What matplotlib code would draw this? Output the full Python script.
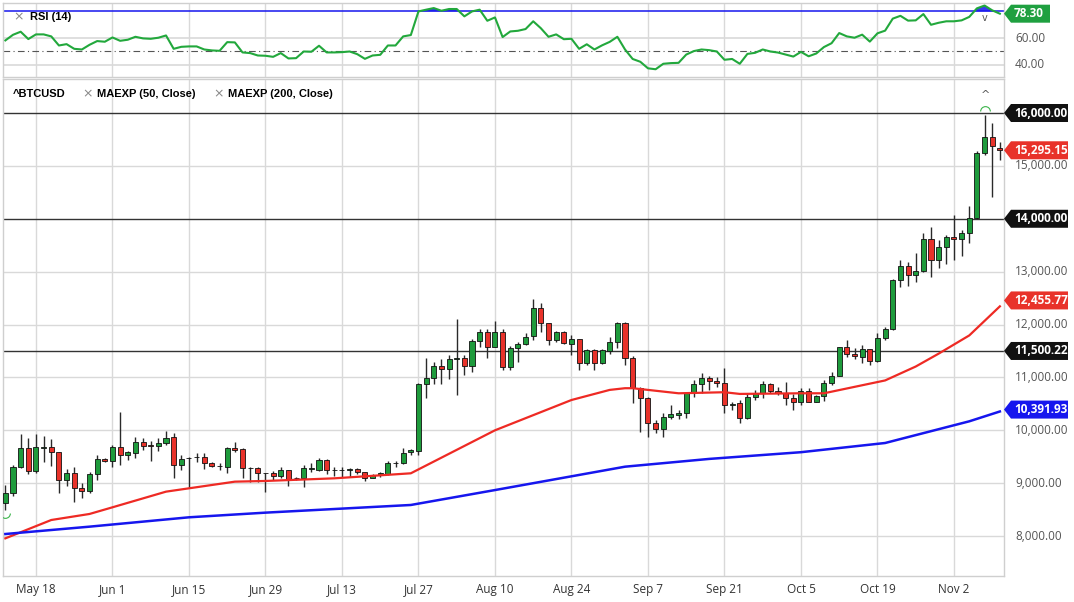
import numpy as np
import matplotlib.pyplot as plt
from matplotlib.patches import Polygon
from matplotlib.transforms import IdentityTransform
from matplotlib.path import Path

# ======================
# 1. Данные, дневные свечи без выходных, 12 мая - 10 ноября
# ======================
opens = [8632, 8821, 9300, 9659, 9231, 9660, 9691, 9584, 9061, 9187,
         8916, 8859, 9168, 9451, 9420, 9691, 9527, 9578, 9773, 9718,
         9704, 9754, 9867, 9344, 9483, 9488, 9496, 9382, 9332, 9313,
         9659, 9640, 9294, 9281, 9187, 9187, 9143, 9250, 9092, 9092,
         9262, 9250, 9439, 9250, 9250, 9250, 9269, 9206, 9104, 9155,
         9174, 9376, 9376, 9584, 9615, 10876, 10983, 11216, 11153, 11342,
         11373, 11216, 11689, 11865, 11569, 11865, 11191, 11562, 11626, 11789,
         12319, 12035, 11708, 11865, 11626, 11720, 11266, 11518, 11266, 11499,
         11676, 12023, 11373, 10794, 10604, 10144, 10018, 10258, 10290, 10321,
         10699, 10870, 10983, 10939, 10888, 10479, 10510, 10227, 10624, 10712,
         10870, 10750, 10700, 10605, 10542, 10744, 10542, 10655, 10888, 11033,
         11569, 11443, 11393, 11538, 11317, 11739, 11925, 12842, 13113, 12937,
         13019, 13611, 13220, 13472, 13649, 13611, 13737, 14008, 15237, 15540, 15340]
highs = [8966, 9344, 9930, 9849, 9930, 9893, 9830, 9590, 9262, 9313,
         8998, 9218, 9527, 9477, 9722, 10353, 9615, 9867, 9849, 9798,
         9861, 9993, 9943, 9527, 9502, 9577, 9565, 9407, 9388, 9678,
         9773, 9659, 9313, 9313, 9199, 9237, 9300, 9250, 9111, 9344,
         9376, 9470, 9458, 9313, 9313, 9281, 9294, 9206, 9174, 9218,
         9420, 9420, 9659, 9640, 10900, 11361, 11298, 11342, 11424, 12098,
         11424, 11720, 11909, 11909, 12073, 11909, 11594, 11676, 11846, 12476,
         12401, 12035, 11884, 11870, 11802, 11725, 11531, 11531, 11531, 11771,
         12054, 12054, 11405, 10825, 10636, 10195, 10321, 10479, 10384, 10731,
         10952, 11090, 11033, 11015, 11172, 10542, 10573, 10700, 10762, 10939,
         10901, 10825, 10907, 10680, 10794, 10794, 10660, 10951, 11109, 11582,
         11708, 11550, 11613, 11540, 11834, 11950, 12867, 13220, 13189, 13346,
         13737, 13850, 13598, 13693, 14071, 13788, 14242, 15288, 15962, 15817, 15458]
lows = [8493, 8764, 9281, 9168, 9187, 9407, 9325, 8821, 8947, 8651,
        8714, 8809, 9061, 9407, 9313, 9344, 9439, 9470, 9628, 9420,
        9615, 9722, 9104, 9250, 8916, 9407, 9262, 9313, 9250, 9187,
        9596, 9104, 9029, 9029, 8840, 9061, 9092, 8954, 9061, 8935,
        9218, 9237, 9174, 9136, 9124, 9124, 9174, 9048, 9092, 9124,
        9155, 9300, 9363, 9533, 9533, 10604, 10876, 10876, 10970, 10668,
        11046, 11109, 11581, 11361, 11569, 11140, 11140, 11298, 11613, 11708,
        11865, 11613, 11676, 11630, 11424, 11140, 11235, 11140, 11260, 11443,
        11550, 11235, 10510, 9974, 9880, 9943, 9867, 10207, 10207, 10226,
        10636, 10700, 10762, 10825, 10321, 10384, 10145, 10208, 10573, 10605,
        10712, 10668, 10479, 10384, 10479, 10536, 10536, 10554, 10857, 11030,
        11393, 11342, 11279, 11235, 11298, 11700, 11900, 12716, 12735, 12811,
        13000, 12905, 13063, 13145, 13220, 13296, 13548, 14000, 15206, 14418, 15111]
closes = [8821, 9313, 9659, 9231, 9678, 9680, 9584, 9061, 9187, 8916,
          8859, 9168, 9451, 9420, 9691, 9533, 9584, 9785, 9710, 9710,
          9754, 9861, 9344, 9464, 9480, 9492, 9376, 9332, 9330, 9659,
          9628, 9294, 9290, 9187, 9185, 9143, 9250, 9080, 9090, 9281,
          9281, 9439, 9250, 9245, 9245, 9265, 9218, 9104, 9155, 9187,
          9376, 9380, 9578, 9628, 10876, 10983, 11216, 11153, 11342, 11373,
          11216, 11689, 11865, 11569, 11865, 11191, 11562, 11632, 11771, 12319,
          12023, 11708, 11865, 11645, 11720, 11266, 11518, 11266, 11518, 11676,
          12023, 11373, 10794, 10604, 10144, 10018, 10258, 10308, 10333, 10699,
          10870, 10996, 10939, 10888, 10479, 10504, 10227, 10624, 10712, 10870,
          10750, 10700, 10605, 10542, 10744, 10542, 10655, 10888, 11033, 11569,
          11437, 11405, 11538, 11317, 11739, 11920, 12842, 13113, 12937, 13019,
          13611, 13220, 13472, 13649, 13617, 13737, 14008, 15237, 15540, 15376, 15295.15]

ema50_idx = [0, 6, 11, 14, 21, 24, 30, 34, 43, 53, 64, 74, 79, 81, 82, 88, 94,
             96, 104, 107, 115, 119, 122, 126, 130]
ema50_val = [7957, 8304, 8418, 8544, 8840, 8903, 9029, 9042, 9092, 9187, 10000,
             10573, 10764, 10796, 10796, 10700, 10720, 10688, 10700, 10700, 10943,
             11206, 11450, 11794, 12344]
ema200_idx = [0, 11, 24, 34, 53, 64, 81, 92, 104, 115, 126, 130]
ema200_val = [8039, 8178, 8355, 8443, 8588, 8870, 9312, 9459, 9586, 9760, 10170, 10356]

last_ema50 = 12455.77
last_ema200 = 10391.93

rsi = [58.3, 62.5, 64.8, 59.3, 62.8, 62.8, 61.3, 54.5, 55.5, 52.0,
       51.5, 55.0, 57.8, 57.3, 60.5, 58.0, 58.8, 61.0, 59.8, 59.5,
       60.3, 62.0, 52.0, 53.5, 53.8, 53.8, 51.5, 50.8, 50.5, 57.0,
       56.8, 49.3, 48.8, 47.0, 46.8, 46.0, 48.8, 44.8, 45.0, 50.0,
       49.8, 54.3, 49.3, 49.3, 49.5, 50.0, 48.0, 44.5, 47.0, 47.5,
       54.5, 54.5, 61.3, 62.3, 80.0, 81.3, 82.5, 80.5, 81.8, 81.8,
       76.3, 80.0, 81.3, 73.0, 75.5, 60.8, 65.0, 65.5, 66.8, 72.6,
       67.4, 61.0, 62.8, 59.2, 59.5, 52.0, 55.4, 51.5, 54.6, 57.2,
       61.0, 51.5, 44.4, 42.3, 37.4, 36.7, 40.8, 41.3, 41.5, 47.7,
       50.3, 51.5, 51.0, 50.0, 43.8, 44.4, 40.8, 48.2, 49.0, 51.5,
       50.0, 49.2, 47.7, 46.2, 49.7, 46.4, 48.5, 53.3, 56.2, 63.8,
       61.3, 60.3, 62.6, 57.4, 63.6, 65.6, 74.6, 76.7, 73.1, 73.3,
       78.0, 70.0, 71.5, 72.6, 72.6, 73.3, 75.9, 82.3, 84.4, 80.8, 78.3]

tick_idx = [4, 14, 24, 34, 44, 54, 64, 74, 84, 94, 104, 114, 124]
tick_labels = ['May 18', 'Jun 1', 'Jun 15', 'Jun 29', 'Jul 13', 'Jul 27', 'Aug 10',
               'Aug 24', 'Sep 7', 'Sep 21', 'Oct 5', 'Oct 19', 'Nov 2']

levels = [16000, 14000, 11500.22]
price_grid = [8000, 9000, 10000, 11000, 12000, 13000, 15000]

# ======================
# 2. Оформление
# ======================
W, H = 1074, 602
GREEN = '#1e9b3c'
RED = '#e8322a'
BLUE = '#1616ee'
GRID = '#d9d9d9'
FONT = 'Open Sans'

def fx(px):
    return px / W

fig = plt.figure(figsize=(W / 100, H / 100), dpi=100)
fig.patch.set_facecolor('white')

ax_rsi = fig.add_axes([fx(3), 1 - 77 / H, fx(1001), 74 / H])
ax = fig.add_axes([fx(3), 1 - 576 / H, fx(1001), 497 / H])

x = np.arange(len(closes))
xlim = (-0.31, 130.54)

for a in (ax, ax_rsi):
    a.set_xlim(*xlim)
    for t in tick_idx:
        a.axvline(t, color=GRID, lw=1, zorder=0)
    for s in a.spines.values():
        s.set_color('#cfcfcf')
        s.set_linewidth(1)
    a.set_yticks([])
    a.tick_params(length=0)

# ======================
# 3. Свечи и средние
# ======================
ax.set_ylim(7245, 16643)
for p in price_grid:
    ax.axhline(p, color=GRID, lw=1, zorder=0)
for lv in levels:
    ax.axhline(lv, color='#333333', lw=1, zorder=1)

o = np.array(opens, dtype=float)
c = np.array(closes, dtype=float)
up = c >= o
ax.vlines(x, lows, highs, color='#2a2a2a', lw=1, zorder=2)
ax.bar(x, np.abs(c - o), bottom=np.minimum(o, c), width=0.66,
       color=np.where(up, GREEN, RED), edgecolor='#111111', linewidth=0.6, zorder=3)

ax.plot(ema50_idx, ema50_val, color='#ee2a24', lw=1.6, zorder=4)
ax.plot(ema200_idx, ema200_val, color=BLUE, lw=1.8, zorder=4)

# маркеры максимума/минимума
arc_top = Path.arc(0, 180)
arc_bot = Path.arc(180, 360)
ax.plot([128], [16030], marker=arc_top, ms=7, mfc='none', mec='#3cb44b', mew=0.8, zorder=5)
ax.plot([0], [8440], marker=arc_bot, ms=7, mfc='none', mec='#3cb44b', mew=0.8, zorder=5)

ax.set_xticks(tick_idx)
ax.set_xticklabels(tick_labels, fontsize=8.5, color='#333333', family=FONT)
ax.tick_params(axis='x', pad=5)

# ======================
# 4. RSI
# ======================
r = np.array(rsi)
ax_rsi.set_ylim(30.9, 86.3)
ax_rsi.set_xticks([])
for lv in (40, 60):
    ax_rsi.axhline(lv, color=GRID, lw=1.2, zorder=0)
ax_rsi.axhline(50, color='#555555', lw=0.8, ls=(0, (6, 3, 1, 3)), zorder=1)
ax_rsi.axhline(80, color=BLUE, lw=1.1, zorder=2)
ax_rsi.fill_between(x, r, 80, where=r > 80, interpolate=True, color=BLUE, alpha=0.85, lw=0, zorder=2)
ax_rsi.plot(x, r, color='#22a83c', lw=1.5, zorder=3)

# ======================
# 5. Подписи шкалы справа
# ======================
def axis_y(a, val):
    return a.transData.transform((0, val))[1]

def tag(a, val, text, color, width=64):
    yd = axis_y(a, val)
    pts = [(1004, yd), (1011, yd + 9), (1004 + width, yd + 9), (1004 + width, yd - 9), (1011, yd - 9)]
    fig.add_artist(Polygon(pts, closed=True, transform=IdentityTransform(),
                           facecolor=color, edgecolor='none', zorder=10))
    fig.text(fx(1014), yd / H, text, color='white', fontweight='bold', fontsize=8.5,
             family=FONT, va='center', ha='left', zorder=11)

def plain(a, val, text):
    fig.text(fx(1015), axis_y(a, val) / H, text, color='#555555', fontsize=8.5,
             family=FONT, va='center', ha='left')

for p in price_grid:
    plain(ax, p, f'{p:,.2f}')
tag(ax, 16000, '16,000.00', '#111111')
tag(ax, 14000, '14,000.00', '#111111')
tag(ax, 11500.22, '11,500.22', '#111111')
tag(ax, closes[-1], f'{closes[-1]:,.2f}', RED)
tag(ax, last_ema50, f'{last_ema50:,.2f}', RED)
tag(ax, last_ema200, f'{last_ema200:,.2f}', BLUE)

plain(ax_rsi, 60, '60.00')
plain(ax_rsi, 40, '40.00')
tag(ax_rsi, rsi[-1], f'{rsi[-1]:.2f}', '#1fa040', width=46)

# ======================
# 6. Заголовки панелей
# ======================
fig.text(fx(13), 1 - 94 / H, '^BTCUSD', fontsize=8, fontweight='bold', family='Liberation Sans', va='center')
fig.text(fx(82), 1 - 94 / H, '×', fontsize=9, color='#888888', family='DejaVu Sans', va='center')
fig.text(fx(97), 1 - 94 / H, 'MAEXP (50, Close)', fontsize=8, fontweight='bold', family='Liberation Sans', va='center')
fig.text(fx(213), 1 - 94 / H, '×', fontsize=9, color='#888888', family='DejaVu Sans', va='center')
fig.text(fx(228), 1 - 94 / H, 'MAEXP (200, Close)', fontsize=8, fontweight='bold', family='Liberation Sans', va='center')

fig.text(fx(13), 1 - 17 / H, '×', fontsize=9, color='#888888', family='DejaVu Sans', va='center')
fig.text(fx(30), 1 - 17 / H, 'RSI (14)', fontsize=8, fontweight='bold', family='Liberation Sans', va='center')

fig.text(fx(985), 1 - 95 / H, '^', fontsize=8, color='#555555', family='DejaVu Sans', va='center', ha='center')
fig.text(fx(985), 1 - 18 / H, 'v', fontsize=7, color='#555555', family='DejaVu Sans', va='center', ha='center')

fig.savefig('out.png', dpi=100, facecolor='white')
